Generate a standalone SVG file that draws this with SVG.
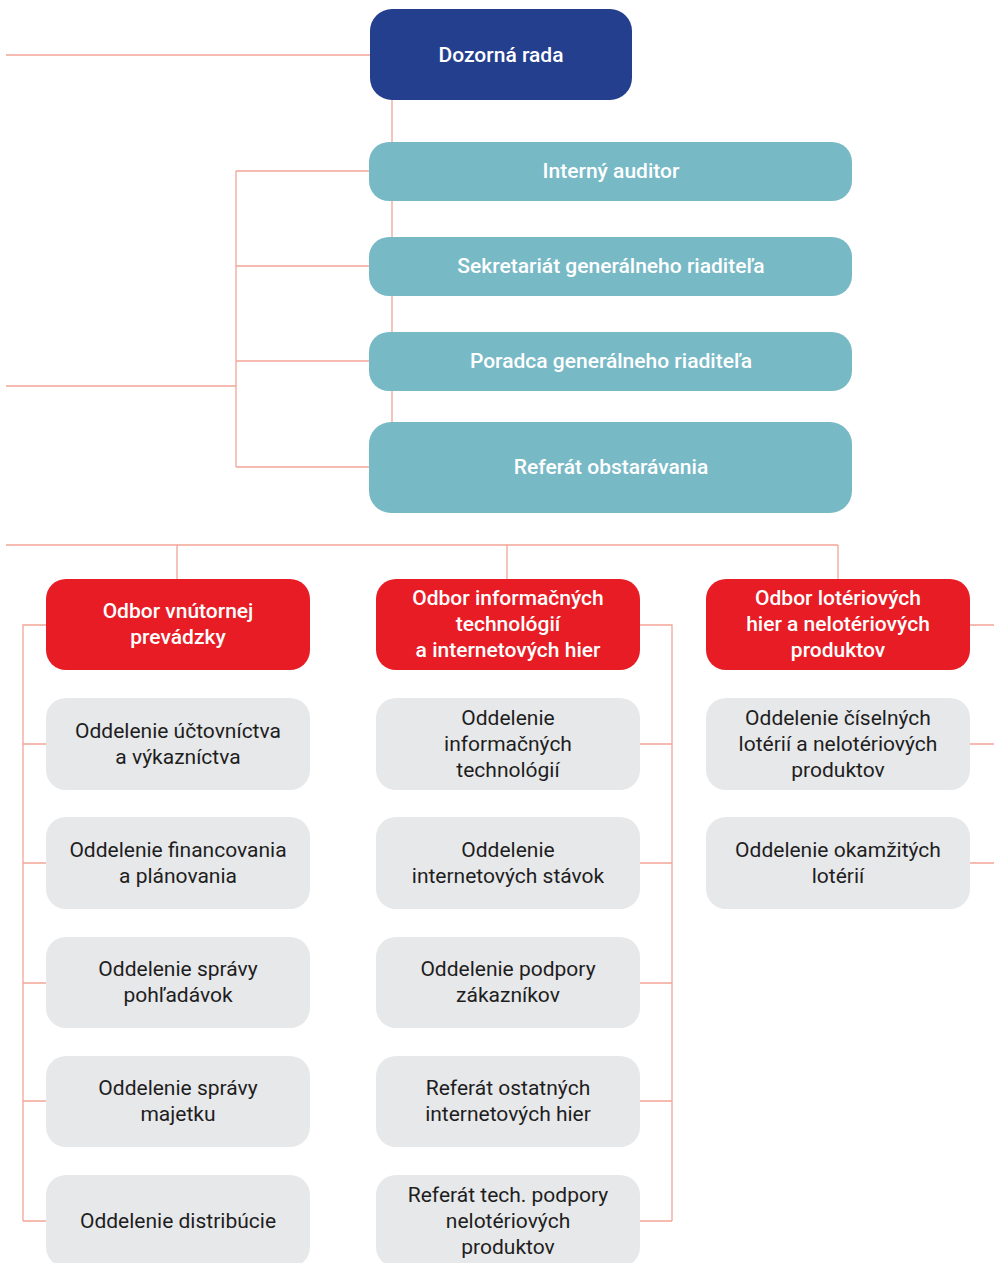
<svg xmlns="http://www.w3.org/2000/svg" width="994" height="1263" viewBox="0 0 994 1263">
<style>
.ln{fill:none;stroke:#f2a597;stroke-width:1.3}
.navy{fill:#253f8f}
.teal{fill:#78b9c6}
.red{fill:#e81c24}
.gray{fill:#e7e8ea}
text{font-family:Roboto,"Noto Sans","Liberation Sans",sans-serif;font-size:21px;text-anchor:middle}
.w{fill:#ffffff;font-weight:500}
.d{fill:#1e1e1e}
</style>
<rect width="994" height="1263" fill="#ffffff"/>
<g id="connectors">
<path class="ln" d="M6 55H370"/>
<path class="ln" d="M392 100V422"/>
<path class="ln" d="M6 386H236"/>
<path class="ln" d="M236 171V467M236 171H369M236 266H369M236 361H369M236 467H369"/>
<path class="ln" d="M6 545H838M177 545V579M507 545V579M838 545V579"/>
<path class="ln" d="M46 625H23V1221M23 744H46M23 863H46M23 983H46M23 1101H46M23 1221H46"/>
<path class="ln" d="M640 625H672V1221M640 744H672M640 863H672M640 983H672M640 1101H672M640 1221H672"/>
<path class="ln" d="M970 625H994M970 744H994M970 863H994"/>
</g>
<g id="dozorna-rada"><rect class="navy" x="370" y="9" width="262" height="91" rx="22"/><text class="w" x="501" y="62">Dozorná rada</text></g>
<g id="interny-auditor"><rect class="teal" x="369" y="142" width="483" height="59" rx="20"/><text class="w" x="611" y="178">Interný auditor</text></g>
<g id="sekretariat"><rect class="teal" x="369" y="237" width="483" height="59" rx="20"/><text class="w" x="611" y="273">Sekretariát generálneho riaditeľa</text></g>
<g id="poradca"><rect class="teal" x="369" y="332" width="483" height="59" rx="20"/><text class="w" x="611" y="368">Poradca generálneho riaditeľa</text></g>
<g id="referat-obstaravania"><rect class="teal" x="369" y="422" width="483" height="91" rx="22"/><text class="w" x="611" y="474">Referát obstarávania</text></g>

<g id="odbor-vnutornej"><rect class="red" x="46" y="579" width="264" height="91" rx="20"/><text class="w"><tspan x="178" y="618">Odbor vnútornej</tspan><tspan x="178" y="644">prevádzky</tspan></text></g>
<g id="odbor-it"><rect class="red" x="376" y="579" width="264" height="91" rx="20"/><text class="w"><tspan x="508" y="605">Odbor informačných</tspan><tspan x="508" y="631">technológií</tspan><tspan x="508" y="657">a internetových hier</tspan></text></g>
<g id="odbor-loterie"><rect class="red" x="706" y="579" width="264" height="91" rx="20"/><text class="w"><tspan x="838" y="605">Odbor lotériových</tspan><tspan x="838" y="631">hier a nelotériových</tspan><tspan x="838" y="657">produktov</tspan></text></g>

<g id="l1"><rect class="gray" x="46" y="698" width="264" height="92" rx="20"/><text class="d"><tspan x="178" y="738">Oddelenie účtovníctva</tspan><tspan x="178" y="764">a výkazníctva</tspan></text></g>
<g id="l2"><rect class="gray" x="46" y="817" width="264" height="92" rx="20"/><text class="d"><tspan x="178" y="857">Oddelenie financovania</tspan><tspan x="178" y="883">a plánovania</tspan></text></g>
<g id="l3"><rect class="gray" x="46" y="937" width="264" height="91" rx="20"/><text class="d"><tspan x="178" y="976">Oddelenie správy</tspan><tspan x="178" y="1002">pohľadávok</tspan></text></g>
<g id="l4"><rect class="gray" x="46" y="1056" width="264" height="91" rx="20"/><text class="d"><tspan x="178" y="1095">Oddelenie správy</tspan><tspan x="178" y="1121">majetku</tspan></text></g>
<g id="l5"><rect class="gray" x="46" y="1175" width="264" height="92" rx="20"/><text class="d"><tspan x="178" y="1228">Oddelenie distribúcie</tspan></text></g>

<g id="m1"><rect class="gray" x="376" y="698" width="264" height="92" rx="20"/><text class="d"><tspan x="508" y="725">Oddelenie</tspan><tspan x="508" y="751">informačných</tspan><tspan x="508" y="777">technológií</tspan></text></g>
<g id="m2"><rect class="gray" x="376" y="817" width="264" height="92" rx="20"/><text class="d"><tspan x="508" y="857">Oddelenie</tspan><tspan x="508" y="883">internetových stávok</tspan></text></g>
<g id="m3"><rect class="gray" x="376" y="937" width="264" height="91" rx="20"/><text class="d"><tspan x="508" y="976">Oddelenie podpory</tspan><tspan x="508" y="1002">zákazníkov</tspan></text></g>
<g id="m4"><rect class="gray" x="376" y="1056" width="264" height="91" rx="20"/><text class="d"><tspan x="508" y="1095">Referát ostatných</tspan><tspan x="508" y="1121">internetových hier</tspan></text></g>
<g id="m5"><rect class="gray" x="376" y="1175" width="264" height="92" rx="20"/><text class="d"><tspan x="508" y="1202">Referát tech. podpory</tspan><tspan x="508" y="1228">nelotériových</tspan><tspan x="508" y="1254">produktov</tspan></text></g>

<g id="r1"><rect class="gray" x="706" y="698" width="264" height="92" rx="20"/><text class="d"><tspan x="838" y="725">Oddelenie číselných</tspan><tspan x="838" y="751">lotérií a nelotériových</tspan><tspan x="838" y="777">produktov</tspan></text></g>
<g id="r2"><rect class="gray" x="706" y="817" width="264" height="92" rx="20"/><text class="d"><tspan x="838" y="857">Oddelenie okamžitých</tspan><tspan x="838" y="883">lotérií</tspan></text></g>
</svg>
